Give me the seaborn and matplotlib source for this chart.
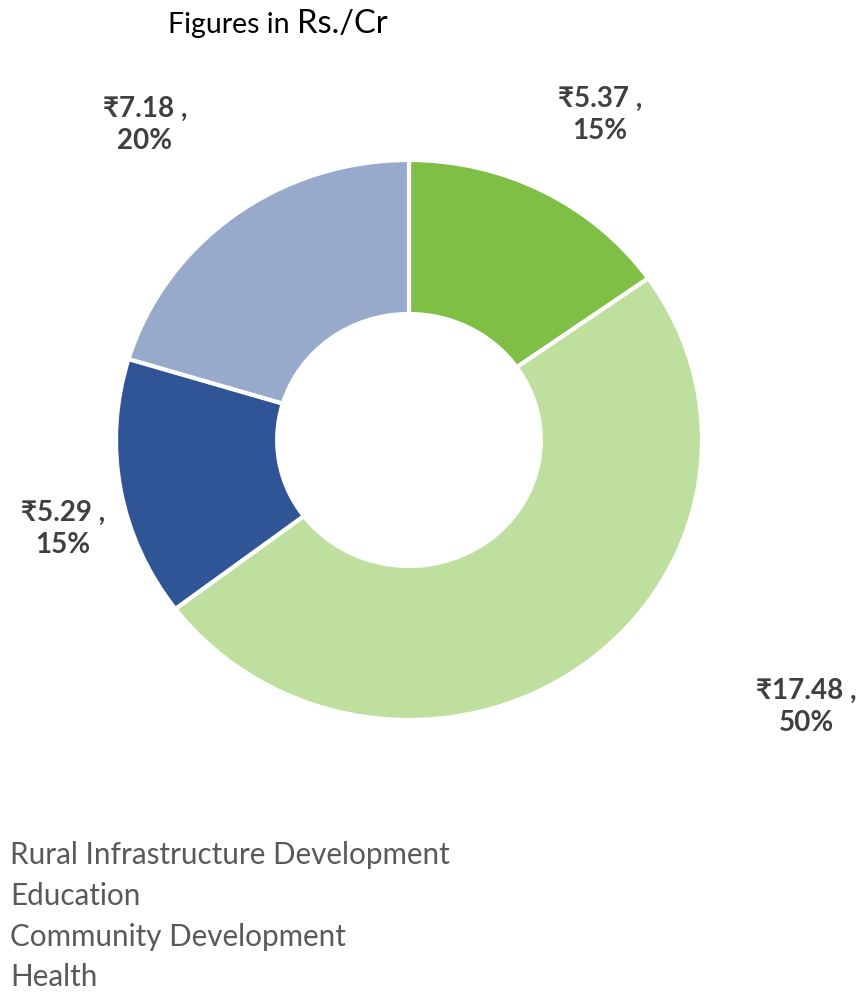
import matplotlib
matplotlib.use("Agg")
import matplotlib.pyplot as plt
import seaborn as sns

categories = ["Rural Infrastructure Development", "Education", "Community Development", "Health"]
values = [5.37, 17.48, 5.29, 7.18]
percents = ["15%", "50%", "15%", "20%"]
colors = ["#7fbf45", "#bfdf9f", "#2f5597", "#97aacb"]

sns.set_theme(style="white")
FONT = ["Lato", "Noto Sans", "DejaVu Sans"]
plt.rcParams["font.family"] = FONT

W, H = 865, 994
fig = plt.figure(figsize=(W / 100, H / 100), dpi=100)
cx, cy, rx, ry = 409, 440, 293, 280
ax = fig.add_axes([(cx - rx) / W, (H - cy - ry) / H, 2 * rx / W, 2 * ry / H])

wedges, _ = ax.pie(values, colors=colors, startangle=90, counterclock=False,
                   radius=1.0,
                   wedgeprops=dict(width=0.55, edgecolor="white", linewidth=3))
ax.set_aspect("auto")
ax.set_xlim(-1, 1)
ax.set_ylim(-1, 1)
ax.axis("off")

# data labels (pixel positions of label centres)
label_pos = [(600, 115), (806, 707), (63, 529), (145, 125)]
for (px, py), v, p in zip(label_pos, values, percents):
    fig.text(px / W, 1 - py / H, f"₹{v:.2f} ,\n{p}", ha="center", va="center",
             fontsize=20, fontweight="bold", color="#404040", linespacing=1.3,
             family=FONT)

fig.text(168 / W, 1 - 25 / H, "Figures in", ha="left", va="center",
         fontsize=20.5, color="black", family=FONT)
fig.text(297 / W, 1 - 24 / H, "Rs./Cr", ha="left", va="center",
         fontsize=23.5, color="black", family=FONT)

leg_baselines = [864, 905, 946, 986]
for name, y in zip(categories, leg_baselines):
    fig.text(10 / W, 1 - y / H, name, ha="left", va="baseline",
             fontsize=21.3, color="#595959", family=FONT)

fig.savefig("out.png", dpi=100)
